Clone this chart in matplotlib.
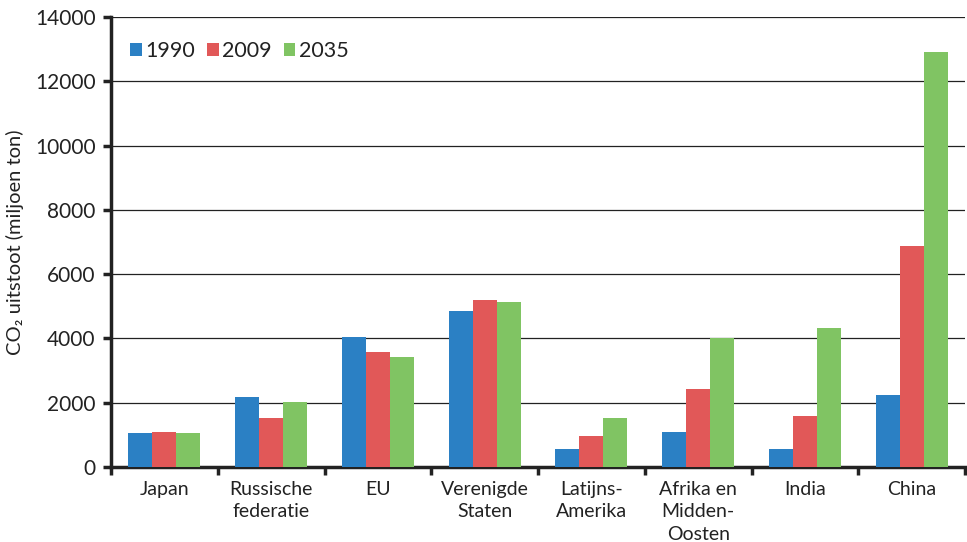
import numpy as np
import matplotlib
matplotlib.use("Agg")
import matplotlib.pyplot as plt

plt.rcParams['font.family'] = ['Lato', 'DejaVu Sans']

categories = ["Japan", "Russische\nfederatie", "EU", "Verenigde\nStaten",
              "Latijns-\nAmerika", "Afrika en\nMidden-\nOosten", "India", "China"]
years = ["1990", "2009", "2035"]
v1990 = [1060, 2180, 4050, 4860, 560, 1090, 560, 2250]
v2009 = [1090, 1530, 3590, 5210, 970, 2430, 1590, 6890]
v2035 = [1060, 2030, 3430, 5140, 1530, 4020, 4330, 12910]
colors = ["#2b80c4", "#e15858", "#80c463"]

fig = plt.figure(figsize=(9.67, 5.42), dpi=100)
ax = fig.add_axes([0.1148, 0.1384, 0.8832, 0.8302])

x = np.arange(len(categories))
w = 0.225
for i, (vals, c, lab) in enumerate(zip([v1990, v2009, v2035], colors, years)):
    ax.bar(x + (i - 1) * w, vals, w, color=c, label=lab, zorder=3)

ax.set_xlim(-0.5, len(categories) - 0.5)
ax.set_ylim(0, 14000)
ax.set_yticks(range(0, 14001, 2000))
ax.yaxis.grid(True, color="#222222", linewidth=0.9, zorder=0)

ax.set_xticks(x)
ax.set_xticklabels(categories, fontsize=14, color="#222222", linespacing=1.4)
ax.set_xticks(np.arange(-0.5, len(categories), 1), minor=True)
ax.tick_params(axis="x", which="major", length=0, pad=10)
ax.tick_params(axis="x", which="minor", length=6, width=2.5, color="#222222")
ax.tick_params(axis="y", length=6, width=2.5, color="#222222", labelsize=15,
               labelcolor="#222222", pad=5)

for s in ["top", "right"]:
    ax.spines[s].set_visible(False)
for s in ["left", "bottom"]:
    ax.spines[s].set_linewidth(2.5)
    ax.spines[s].set_color("#222222")

ax.set_ylabel("CO₂ uitstoot (miljoen ton)", fontsize=14.5, color="#222222", labelpad=8)

ax.legend(loc="upper left", bbox_to_anchor=(0.0, 0.99), ncol=3, frameon=False,
          fontsize=15.5, handlelength=0.55, handleheight=0.55, handletextpad=0.15,
          columnspacing=0.55, labelcolor="#222222")

fig.savefig("out.png", dpi=100)
